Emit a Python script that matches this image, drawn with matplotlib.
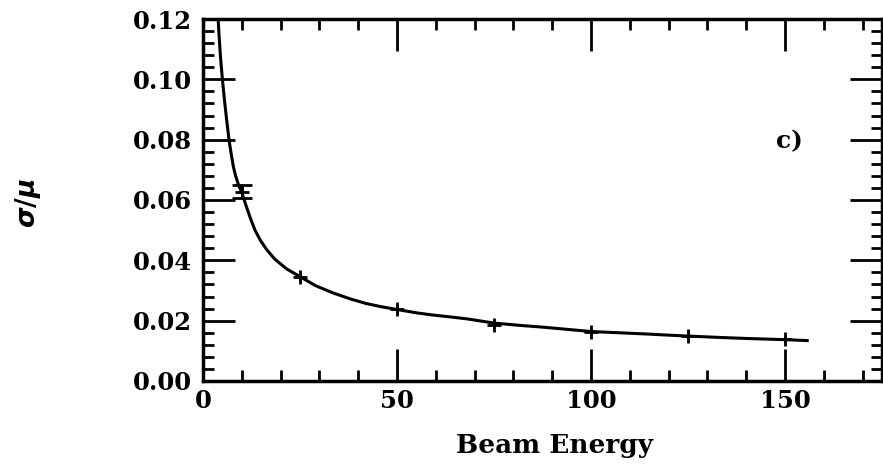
import matplotlib
matplotlib.use("Agg")
import matplotlib.pyplot as plt
from matplotlib.ticker import MultipleLocator, FormatStrFormatter

# data points (beam energy, sigma/mu, error)
energy = [10, 25, 50, 75, 100, 125, 150]
resolution = [0.0628, 0.0346, 0.0238, 0.0185, 0.0163, 0.0149, 0.0138]
errors = [0.0022, 0.0013, 0.0012, 0.0010, 0.0010, 0.0010, 0.0010]

# fitted curve
curve_e = [3.9, 4.1, 4.5, 5.0, 5.5, 6.1, 6.7, 7.3, 7.8, 8.4, 9.1, 10.0, 11.0, 12.2,
           13.4, 14.8, 16.5, 18.5, 21.5, 25.0, 29.0, 33.5, 38.0, 42.0, 46.0, 50.0,
           55.0, 59.0, 64.0, 68.0, 75.0, 82.0, 88.0, 94.0, 100.0, 107.0, 114.0,
           120.0, 125.0, 132.0, 140.0, 145.0, 150.0, 155.7]
curve_r = [0.120, 0.1153, 0.1075, 0.100, 0.0935, 0.0865, 0.0800, 0.0750, 0.0712,
           0.0680, 0.0652, 0.0625, 0.0585, 0.0540, 0.0500, 0.0466, 0.0434, 0.0404,
           0.0372, 0.0346, 0.0316, 0.0292, 0.0272, 0.0257, 0.0246, 0.0237, 0.0226,
           0.0219, 0.0212, 0.0206, 0.0192, 0.0184, 0.0178, 0.0171, 0.0164, 0.0160,
           0.0156, 0.0152, 0.0149, 0.0145, 0.0141, 0.0139, 0.0137, 0.0134]

xticks = [0, 50, 100, 150]
yticks = [0.00, 0.02, 0.04, 0.06, 0.08, 0.10, 0.12]

plt.rcParams['font.family'] = ['DejaVu Serif']
plt.rcParams['font.weight'] = 'bold'

fig = plt.figure(figsize=(8.83, 4.68), dpi=100)
ax = fig.add_axes([0.2299, 0.1859, 0.7691, 0.7735])

ax.plot(curve_e, curve_r, color='black', lw=2.2, solid_joinstyle='round')
ax.errorbar(energy[:1], resolution[:1], yerr=errors[:1], fmt='+', color='black',
            ms=10, mew=2, elinewidth=2, capsize=7, capthick=2)
ax.errorbar(energy[1:], resolution[1:], yerr=errors[1:], fmt='+', color='black',
            ms=10, mew=2, elinewidth=2, capsize=0)

ax.set_xlim(0, 175)
ax.set_ylim(0, 0.12)
ax.set_xticks(xticks)
ax.set_yticks(yticks)
ax.xaxis.set_minor_locator(MultipleLocator(10))
ax.yaxis.set_minor_locator(MultipleLocator(0.004))
ax.yaxis.set_major_formatter(FormatStrFormatter('%.2f'))

ax.tick_params(which='both', direction='in', top=True, right=True,
               width=2, labelsize=17.5, color='black')
ax.tick_params(which='major', length=23)
ax.tick_params(which='minor', length=8)
ax.tick_params(axis='x', which='major', pad=6)
ax.tick_params(axis='y', which='major', pad=8)
for lab in ax.get_xticklabels() + ax.get_yticklabels():
    lab.set_fontweight('bold')
for sp in ax.spines.values():
    sp.set_linewidth(2.5)

ax.text(151, 0.0795, 'c)', fontsize=18, fontweight='bold', ha='center', va='center')

fig.text(554 / 883, 1 - 445 / 468, 'Beam Energy', fontsize=19, fontweight='bold',
         ha='center', va='center')
fig.text(28 / 883, 1 - 203 / 468, r'$\sigma/\mu$', fontsize=19, fontweight='bold',
         rotation=90, ha='center', va='center')

fig.savefig('out.png', dpi=100)
